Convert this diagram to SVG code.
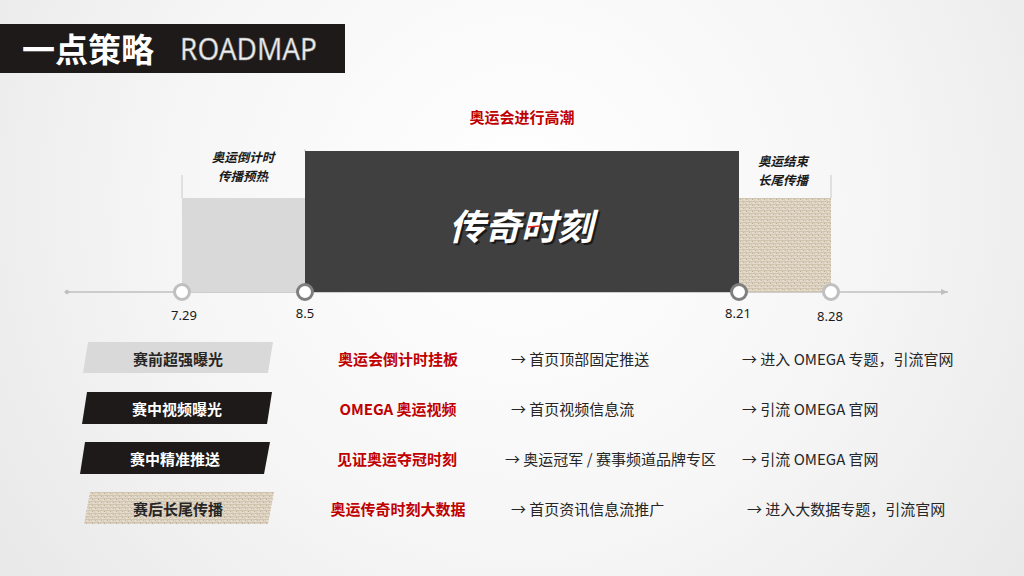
<svg xmlns="http://www.w3.org/2000/svg" width="1024" height="576" viewBox="0 0 1024 576">
<defs>
<radialGradient id="bg" cx="520" cy="200" r="620" gradientUnits="userSpaceOnUse">
<stop offset="0" stop-color="#ffffff"/>
<stop offset="0.55" stop-color="#f6f6f6"/>
<stop offset="1" stop-color="#e9e9e9"/>
</radialGradient>
<pattern id="linen" width="6" height="6" patternUnits="userSpaceOnUse">
<rect width="6" height="6" fill="#e0d7c6"/>
<path d="M0 0.5H6M0 3.5H6" stroke="#cabea8" stroke-width="0.8"/>
<path d="M1.5 0V6M4.5 0V6" stroke="#d3c8b4" stroke-width="0.7"/>
<path d="M0 2H3M3 5H6" stroke="#f1ebdf" stroke-width="0.6"/>
<rect x="2" y="1" width="1" height="1" fill="#bcae97"/>
<rect x="5" y="4" width="1" height="1" fill="#c2b6a0"/>
</pattern>
<marker id="arr" markerWidth="8" markerHeight="8" refX="7" refY="4" orient="auto" markerUnits="userSpaceOnUse">
<path d="M0 1L7 4L0 7Z" fill="#bfbfbf"/>
</marker>
<marker id="dia" markerWidth="6" markerHeight="6" refX="3" refY="3" orient="auto" markerUnits="userSpaceOnUse">
<path d="M0 3L3 0.5L6 3L3 5.5Z" fill="#bfbfbf"/>
</marker>
</defs>
<style>
.cjk{font-family:"Noto Sans CJK SC","Noto Sans",sans-serif}
.lbl{font-family:"Noto Sans CJK SC",sans-serif;font-size:15px;font-weight:bold;text-anchor:middle}
.red{font-family:"Noto Sans CJK SC",sans-serif;font-size:15px;font-weight:bold;fill:#c00000;text-anchor:middle}
.det{font-family:"Noto Sans CJK SC",sans-serif;font-size:15px;fill:#262626}
.date{font-family:"Noto Sans","Liberation Sans",sans-serif;font-size:13px;fill:#1a1a1a;text-anchor:middle}
.phase{font-family:"Noto Sans CJK SC",sans-serif;font-size:12.5px;font-weight:bold;font-style:italic;fill:#1a1a1a;text-anchor:middle}
.dot-l{fill:#ffffff;stroke:#bfbfbf;stroke-width:3}
.dot-d{fill:#ffffff;stroke:#7f7f7f;stroke-width:3}
.tick{stroke:#d9d9d9;stroke-width:1.5}
</style>
<rect width="1024" height="576" fill="url(#bg)"/>

<g id="title">
<rect x="0" y="24" width="345" height="49" fill="#1d1a19"/>
<text x="22" y="62" class="cjk" font-size="33" font-weight="bold" fill="#ffffff">一点策略</text>
<text x="180" y="60" font-family="Noto Sans, Liberation Sans, sans-serif" font-size="30" fill="#eeeeee" stroke="#8c8c8c" stroke-width="0.5" textLength="137" lengthAdjust="spacingAndGlyphs">ROADMAP</text>
</g>

<g id="connectors">
<line x1="67" y1="292" x2="948" y2="292" stroke="#bfbfbf" stroke-width="1.5" marker-start="url(#dia)" marker-end="url(#arr)"/>
</g>

<g id="phase-pre">
<line class="tick" x1="182" y1="175" x2="182" y2="198"/>
<rect x="182" y="198" width="123" height="94" fill="#d9d9d9"/>
<text class="phase" x="243" y="162">奥运倒计时</text>
<text class="phase" x="243" y="180.5">传播预热</text>
</g>

<g id="phase-main">
<line x1="305" y1="149" x2="305" y2="152" stroke="#d9d9d9" stroke-width="1.5"/>
<rect x="305" y="151" width="434" height="141" fill="#404040"/>
<text x="522" y="123" class="red">奥运会进行高潮</text>
<text x="523" y="242" class="cjk" font-size="36" font-weight="bold" font-style="italic" fill="#1a1a1a" text-anchor="middle">传奇时刻</text>
<text x="521" y="240" class="cjk" font-size="36" font-weight="bold" font-style="italic" fill="#ffffff" text-anchor="middle">传奇时刻</text>
<line x1="528" y1="227" x2="540" y2="226" stroke="#e0201b" stroke-width="1.5"/>
</g>

<g id="phase-post">
<line class="tick" x1="831" y1="175" x2="831" y2="198"/>
<rect x="739" y="198" width="92" height="94" fill="url(#linen)"/>
<text class="phase" x="783" y="166">奥运结束</text>
<text class="phase" x="783" y="184.5">长尾传播</text>
</g>

<g id="milestone-729">
<circle class="dot-l" cx="182" cy="292" r="7.5"/>
<text class="date" x="184" y="320">7.29</text>
</g>
<g id="milestone-85">
<circle class="dot-d" cx="305" cy="292" r="7.5"/>
<text class="date" x="305" y="318">8.5</text>
</g>
<g id="milestone-821">
<circle class="dot-d" cx="739" cy="292" r="7.5"/>
<text class="date" x="738" y="318">8.21</text>
</g>
<g id="milestone-828">
<circle class="dot-l" cx="831" cy="292" r="7.5"/>
<text class="date" x="830" y="321">8.28</text>
</g>

<g id="row-1">
<polygon points="88,342 273,342 268,373 83,373" fill="#d9d9d9"/>
<text class="lbl" x="178" y="365" fill="#262626">赛前超强曝光</text>
<text class="red" x="398" y="365">奥运会倒计时挂板</text>
<text class="det" x="511" y="365">→ 首页顶部固定推送</text>
<text class="det" x="742" y="365">→ 进入 OMEGA 专题，引流官网</text>
</g>

<g id="row-2">
<polygon points="87,392 272,392 267,424 82,424" fill="#1d1a19"/>
<text class="lbl" x="177" y="415" fill="#ffffff">赛中视频曝光</text>
<text class="red" x="398" y="415">OMEGA 奥运视频</text>
<text class="det" x="511" y="415">→ 首页视频信息流</text>
<text class="det" x="742" y="415">→ 引流 OMEGA 官网</text>
</g>

<g id="row-3">
<polygon points="85,442 270,442 264,474 80,474" fill="#1d1a19"/>
<text class="lbl" x="175" y="465" fill="#ffffff">赛中精准推送</text>
<text class="red" x="397" y="465">见证奥运夺冠时刻</text>
<text class="det" x="505" y="465">→ 奥运冠军 / 赛事频道品牌专区</text>
<text class="det" x="742" y="465">→ 引流 OMEGA 官网</text>
</g>

<g id="row-4">
<polygon points="90,492 274,492 268,524 84,524" fill="url(#linen)"/>
<text class="lbl" x="178" y="515" fill="#262626">赛后长尾传播</text>
<text class="red" x="398" y="515">奥运传奇时刻大数据</text>
<text class="det" x="511" y="515">→ 首页资讯信息流推广</text>
<text class="det" x="747" y="515">→ 进入大数据专题，引流官网</text>
</g>
</svg>
